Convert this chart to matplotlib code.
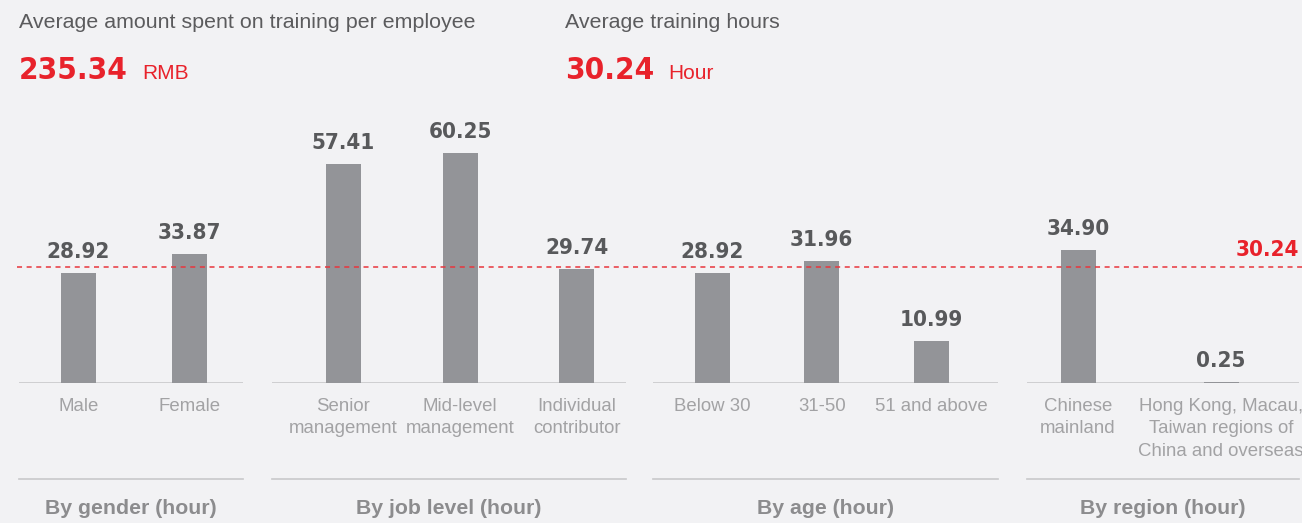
import matplotlib
matplotlib.use('Agg')
import matplotlib.pyplot as plt
from matplotlib.transforms import blended_transform_factory

# training hours per employee, split four ways
gender_labels = ['Male', 'Female']
gender_hours = [28.92, 33.87]
job_labels = ['Senior\nmanagement', 'Mid-level\nmanagement', 'Individual\ncontributor']
job_hours = [57.41, 60.25, 29.74]
age_labels = ['Below 30', '31-50', '51 and above']
age_hours = [28.92, 31.96, 10.99]
region_labels = ['Chinese\nmainland', 'Hong Kong, Macau,\nTaiwan regions of\nChina and overseas']
region_hours = [34.90, 0.25]
group_titles = ['By gender (hour)', 'By job level (hour)', 'By age (hour)', 'By region (hour)']

avg_spend = 235.34
avg_hours = 30.24

W, H = 1302, 523
BG = '#f2f2f4'
BAR = '#939498'
RED = '#e8222b'
RULE = '#c8c8ca'
COND = ['DejaVu Sans Condensed', 'DejaVu Sans']
plt.rcParams['font.family'] = ['Liberation Sans', 'DejaVu Sans']

# panel extents in pixels and x limits, so bars land where they should
panels = [
    (19, 243, -0.536, 1.482),
    (272, 626, -0.612, 2.420),
    (653, 998, -0.538, 2.606),
    (1027, 1299, -0.357, 1.545),
]
BASE_PX = 383      # bar baseline, from the top
PX_PER_HOUR = 3.82
YMAX = 70
BAR_PX = 35

fig = plt.figure(figsize=(W / 100, H / 100), dpi=100, facecolor=BG)
ax_bottom = (H - BASE_PX) / H
ax_height = YMAX * PX_PER_HOUR / H

groups = [
    (gender_labels, gender_hours),
    (job_labels, job_hours),
    (age_labels, age_hours),
    (region_labels, region_hours),
]

num_style = dict(family=COND, stretch='condensed', weight='bold')

for (labels, hours), (left, right, x0, x1), title in zip(groups, panels, group_titles):
    ax = fig.add_axes([left / W, ax_bottom, (right - left) / W, ax_height])
    ax.set_facecolor('none')
    ax.set_xlim(x0, x1)
    ax.set_ylim(0, YMAX)
    ax.axis('off')

    xs = list(range(len(hours)))
    width = BAR_PX * (x1 - x0) / (right - left)
    ax.bar(xs, hours, width=width, color=BAR, zorder=2)
    ax.axhline(0, color=RULE, lw=1.2, zorder=1)

    for x, v, lab in zip(xs, hours, labels):
        ax.annotate(f'{v:.2f}', xy=(x, v), xytext=(0, 15), textcoords='offset pixels',
                    ha='center', va='baseline', size=16, color='#58595b', **num_style)
        ax.annotate(lab, xy=(x, 0), xytext=(0, -15), textcoords='offset pixels',
                    ha='center', va='top', size=13.4, color='#a2a2a4',
                    linespacing=1.42)

    trans = blended_transform_factory(ax.transAxes, fig.transFigure)
    ax.plot([0, 1], [1 - 479 / H] * 2, transform=trans, color=RULE, lw=1.2,
            clip_on=False)
    ax.text(0.5, 1 - 508 / H, title, transform=trans, ha='center', va='center',
            size=15.3, weight='bold', color='#8c8c8e')

# company-wide average as a dashed reference line over every panel
over = fig.add_axes([17 / W, ax_bottom, 1 - 17 / W, ax_height])
over.set_facecolor('none')
over.set_xlim(0, 1)
over.set_ylim(0, YMAX)
over.axis('off')
over.axhline(avg_hours, color='#e8353d', lw=1.1, linestyle=(0, (3.3, 3.0)), zorder=5)
over.annotate(f'{avg_hours:.2f}', xy=(1, avg_hours),
              xycoords=blended_transform_factory(over.transAxes, over.transData),
              xytext=(-3, 11), textcoords='offset pixels', ha='right', va='baseline',
              size=16, color=RED, **num_style)

# headline figures
headlines = [
    (19, 'Average amount spent on training per employee', avg_spend, 'RMB'),
    (565, 'Average training hours', avg_hours, 'Hour'),
]
for x, caption, value, unit in headlines:
    fig.text(x / W, 1 - 22 / H, caption, va='center', size=15.4, color='#5b5b5d')
    num = fig.text(x / W, 1 - 79 / H, f'{value:.2f}', va='baseline', size=22.5,
                   color=RED, **num_style)
    plt.annotate(unit, xy=(1, 1 - 79 / H), xycoords=(num, 'figure fraction'),
                 xytext=(14, 0), textcoords='offset pixels', va='baseline',
                 size=15, color=RED)

fig.savefig('out.png', dpi=100, facecolor=BG)
